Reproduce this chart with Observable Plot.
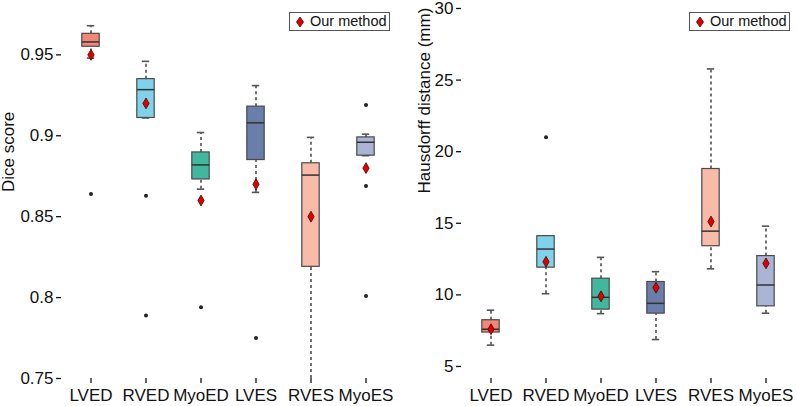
<!DOCTYPE html>
<html><head><meta charset="utf-8">
<script src="https://cdn.jsdelivr.net/npm/d3@7"></script>
<script src="https://cdn.jsdelivr.net/npm/@observablehq/plot@0.6"></script>
<style>
body{margin:0;background:#fff;font-family:"Liberation Sans",Arial,sans-serif;}
#wrap{position:relative;width:797px;height:406px;display:flex;}
.legend{position:absolute;top:12px;width:101px;height:19px;border:1.5px solid #555;box-sizing:border-box;background:#fff;font-size:14.5px;color:#111;}
.legend svg{position:absolute;left:5px;top:3px;}
.legend span{position:absolute;left:20px;top:0px;line-height:16px;}
</style>
</head><body>
<div id="wrap"></div>
<script>
const categories = ["LVED","RVED","MyoED","LVES","RVES","MyoES"];
const colors = ["#f08878","#80d2ea","#40b8a0","#6a7eaa","#f8bba8","#aab4d4"];

// Dice score
const diceLow  = [0.948, 0.911, 0.867, 0.865, 0.750, 0.8877];
const diceQ1   = [0.955, 0.911, 0.873, 0.885, 0.819, 0.8877];
const diceMed  = [0.958, 0.9285, 0.882, 0.908, 0.8757, 0.896];
const diceQ3   = [0.963, 0.935, 0.8897, 0.918, 0.883, 0.899];
const diceHigh = [0.968, 0.946, 0.902, 0.931, 0.899, 0.901];
const diceOurs = [0.950, 0.920, 0.860, 0.870, 0.850, 0.880];
const diceOutlierCat = ["LVED","RVED","RVED","MyoED","LVES","MyoES","MyoES","MyoES"];
const diceOutlierVal = [0.864, 0.863, 0.789, 0.794, 0.775, 0.919, 0.869, 0.801];
const diceTicks = [0.75, 0.8, 0.85, 0.9, 0.95];

// Hausdorff distance (mm)
const hdLow  = [6.49, 10.08, 8.69, 6.88, 11.82, 8.72];
const hdQ1   = [7.37, 11.9, 8.97, 8.69, 13.4, 9.2];
const hdMed  = [7.6, 13.2, 9.83, 9.41, 14.45, 10.69];
const hdQ3   = [8.23, 14.1, 11.13, 10.9, 18.79, 12.71];
const hdHigh = [8.93, 14.1, 12.62, 11.62, 25.78, 14.8];
const hdOurs = [7.6, 12.31, 9.9, 10.5, 15.12, 12.2];
const hdOutlierCat = ["RVED"];
const hdOutlierVal = [21.0];
const hdTicks = [5, 10, 15, 20, 25, 30];

function build({width, marginRight, marginTop, domain, ticks, low, q1, med, q3, high, ours, oCat, oVal, title, titleDx}) {
  const rows = categories.map((c, i) => ({c, low: low[i], q1: q1[i], med: med[i], q3: q3[i], high: high[i], ours: ours[i], color: colors[i]}));
  const outl = oCat.map((c, i) => ({c, v: oVal[i]}));
  const boxInset = {insetLeft: 18.8, insetRight: 18.8};
  const capInset = {insetLeft: 23.8, insetRight: 23.8};
  return Plot.plot({
    width, height: 406,
    marginLeft: 61, marginRight, marginTop, marginBottom: 28,
    style: {fontFamily: '"Liberation Sans", Arial, sans-serif', fontSize: "17px", color: "#111", background: "#fff", overflow: "visible"},
    x: {type: "band", domain: categories, padding: 0},
    y: {domain, clamp: true},
    marks: [
      Plot.ruleX(rows, {x: "c", y1: "q3", y2: "high", stroke: "#5a5a5a", strokeWidth: 1.7, strokeDasharray: "3,3"}),
      Plot.ruleX(rows, {x: "c", y1: "low", y2: "q1", stroke: "#5a5a5a", strokeWidth: 1.7, strokeDasharray: "3,3"}),
      Plot.tickY(rows, {x: "c", y: "high", stroke: "#555", strokeWidth: 1.6, ...capInset}),
      Plot.tickY(rows.filter(d => d.low > domain[0]), {x: "c", y: "low", stroke: "#555", strokeWidth: 1.6, ...capInset}),
      Plot.barY(rows, {x: "c", y1: "q1", y2: "q3", fill: "color", stroke: "#4a4a4a", strokeWidth: 1.2, ...boxInset}),
      Plot.tickY(rows, {x: "c", y: "med", stroke: "#333", strokeWidth: 1.5, ...boxInset}),
      Plot.dot(outl, {x: "c", y: "v", r: 2, fill: "#222", stroke: "none"}),
      Plot.dot(rows, {x: "c", y: "ours", symbol: "diamond", r: 3.3, fill: "#e00000", stroke: "#500", strokeWidth: 0.8}),
      Plot.axisY({ticks, tickFormat: d => String(d), tickSize: 5, tickPadding: 3, line: true, label: null, strokeWidth: 1.3}),
      Plot.axisX({tickSize: 5, tickPadding: 5, line: true, label: null, strokeWidth: 1.3}),
      Plot.text([title], {frameAnchor: "left", text: d => d, rotate: -90, dx: titleDx, fontSize: 17, fill: "#111"})
    ]
  });
}

const wrap = document.getElementById("wrap");
wrap.appendChild(build({width: 400, marginRight: 5, marginTop: 5, domain: [0.75, 0.9805], ticks: diceTicks,
  low: diceLow, q1: diceQ1, med: diceMed, q3: diceQ3, high: diceHigh, ours: diceOurs,
  oCat: diceOutlierCat, oVal: diceOutlierVal, title: "Dice score", titleDx: -53}));
wrap.appendChild(build({width: 397, marginRight: 2, marginTop: 8, domain: [4.16, 30], ticks: hdTicks,
  low: hdLow, q1: hdQ1, med: hdMed, q3: hdQ3, high: hdHigh, ours: hdOurs,
  oCat: hdOutlierCat, oVal: hdOutlierVal, title: "Hausdorff distance (mm)", titleDx: -37}));

function legend(left) {
  const d = document.createElement("div");
  d.className = "legend";
  d.style.left = left + "px";
  d.innerHTML = '<svg width="10" height="12" viewBox="0 0 10 12"><path d="M5,1 L8.5,6 L5,11 L1.5,6 Z" fill="#e00000" stroke="#500" stroke-width="0.8"/></svg><span>Our method</span>';
  wrap.appendChild(d);
}
legend(289);
legend(689);
</script>
</body></html>
